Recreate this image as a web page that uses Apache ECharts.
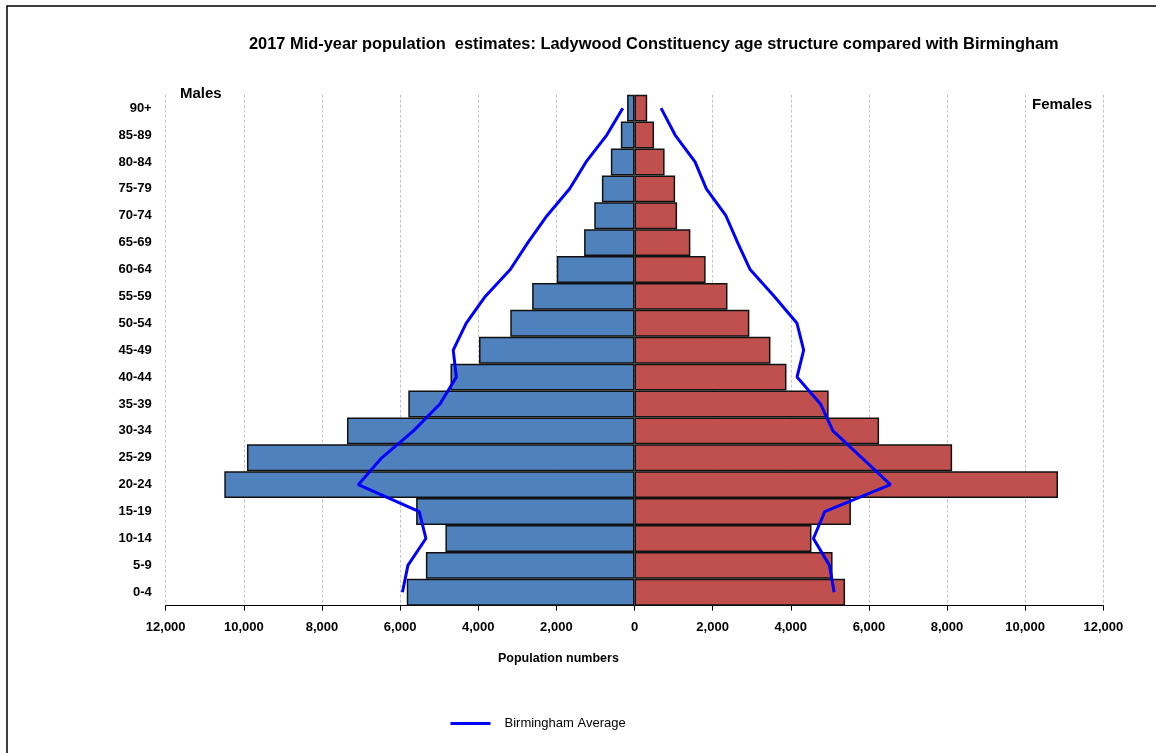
<!DOCTYPE html>
<html>
<head>
<meta charset="utf-8">
<script src="https://cdn.jsdelivr.net/npm/echarts@6/dist/echarts.min.js"></script>
<style>
  html, body { margin: 0; padding: 0; background: #fff; }
  #chart { width: 1156px; height: 753px; }
</style>
</head>
<body>
<div id="chart"></div>
<script>
// age bands, bottom to top
const ages = ['0-4', '5-9', '10-14', '15-19', '20-24', '25-29', '30-34', '35-39', '40-44', '45-49',
  '50-54', '55-59', '60-64', '65-69', '70-74', '75-79', '80-84', '85-89', '90+'];
// Ladywood population
const males = [5830, 5340, 4840, 5590, 10500, 9920, 7360, 5790, 4710, 3980,
  3180, 2620, 1990, 1290, 1030, 835, 605, 350, 190];
const females = [5390, 5070, 4530, 5540, 10840, 8130, 6260, 4970, 3890, 3480,
  2940, 2380, 1820, 1430, 1090, 1040, 770, 500, 325];
// Birmingham average (scaled to Ladywood)
const bhamMales = [5940, 5800, 5340, 5510, 7070, 6470, 5660, 4980, 4560, 4640,
  4310, 3820, 3180, 2730, 2240, 1660, 1240, 710, 300];
const bhamFemales = [5110, 4990, 4580, 4870, 6550, 5820, 5080, 4760, 4160, 4330,
  4160, 3580, 2960, 2640, 2340, 1840, 1550, 1040, 680];
const xTicks = [-12000, -10000, -8000, -6000, -4000, -2000, 0, 2000, 4000, 6000, 8000, 10000, 12000];

const font = '"Liberation Sans", Arial, sans-serif';
const neg = arr => arr.map(v => -v);

const chart = echarts.init(document.getElementById('chart'));
chart.setOption({
  animation: false,
  backgroundColor: '#fff',
  textStyle: { fontFamily: font },
  title: {
    text: '2017 Mid-year population  estimates: Ladywood Constituency age structure compared with Birmingham',
    left: 244,
    top: 31,
    textStyle: { fontSize: 16.4, fontWeight: 'bold', color: '#000', fontFamily: font }
  },
  legend: {
    data: ['Birmingham Average'],
    left: 444,
    top: 712,
    itemWidth: 40,
    itemHeight: 4,
    lineStyle: { width: 3 },
    textStyle: { fontSize: 13, color: '#000', fontFamily: font, padding: [0, 0, 0, 9] }
  },
  grid: { left: 165.7, right: 52.7, top: 94.7, bottom: 147.3, containLabel: false },
  xAxis: {
    type: 'value',
    min: xTicks[0],
    max: xTicks[xTicks.length - 1],
    interval: 2000,
    axisLine: { show: true, onZero: false, lineStyle: { color: '#000', width: 1 } },
    axisTick: { show: true, length: 5, lineStyle: { color: '#000' } },
    axisLabel: {
      color: '#000', fontWeight: 'bold', fontSize: 13, margin: 15,
      formatter: v => Math.abs(v).toLocaleString('en-US')
    },
    splitLine: { show: true, lineStyle: { color: '#c4c4c4', type: [3, 2], width: 1 } }
  },
  yAxis: {
    type: 'category',
    data: ages,
    axisLine: { show: false },
    axisTick: { show: false },
    axisLabel: { color: '#000', fontWeight: 'bold', fontSize: 13, margin: 14 }
  },
  series: [
    {
      name: 'Males', type: 'bar', stack: 'pop', data: neg(males),
      barCategoryGap: '0%',
      itemStyle: { color: '#4F81BD', borderColor: '#111', borderWidth: 1.5 }
    },
    {
      name: 'Females', type: 'bar', stack: 'pop', data: females,
      barCategoryGap: '0%',
      itemStyle: { color: '#C0504D', borderColor: '#111', borderWidth: 1.5 }
    },
    {
      name: 'Birmingham Average', type: 'line', data: neg(bhamMales),
      symbol: 'none', z: 5,
      lineStyle: { color: '#0000FF', width: 3 }, itemStyle: { color: '#0000FF' }
    },
    {
      name: 'Birmingham Average', type: 'line', data: bhamFemales,
      symbol: 'none', z: 5,
      lineStyle: { color: '#0000FF', width: 3 }, itemStyle: { color: '#0000FF' }
    }
  ],
  graphic: [
    {
      type: 'rect', silent: true, z: -1,
      shape: { x: 7, y: 6, width: 1200, height: 800 },
      style: { fill: 'none', stroke: '#000', lineWidth: 1.5 }
    },
    {
      type: 'text', left: 180, top: 86, z: 10,
      style: {
        text: 'Males', fill: '#000', font: 'bold 15px ' + font,
        backgroundColor: '#fff', padding: [0, 20, 10, 0]
      }
    },
    {
      type: 'text', right: 64, top: 97, z: 10,
      style: {
        text: 'Females', fill: '#000', font: 'bold 15px ' + font,
        backgroundColor: '#fff', padding: [0, 0, 10, 0]
      }
    },
    {
      type: 'text', left: 498, top: 652,
      style: { text: 'Population numbers', fill: '#000', font: 'bold 12.5px ' + font }
    }
  ]
});
</script>
</body>
</html>
